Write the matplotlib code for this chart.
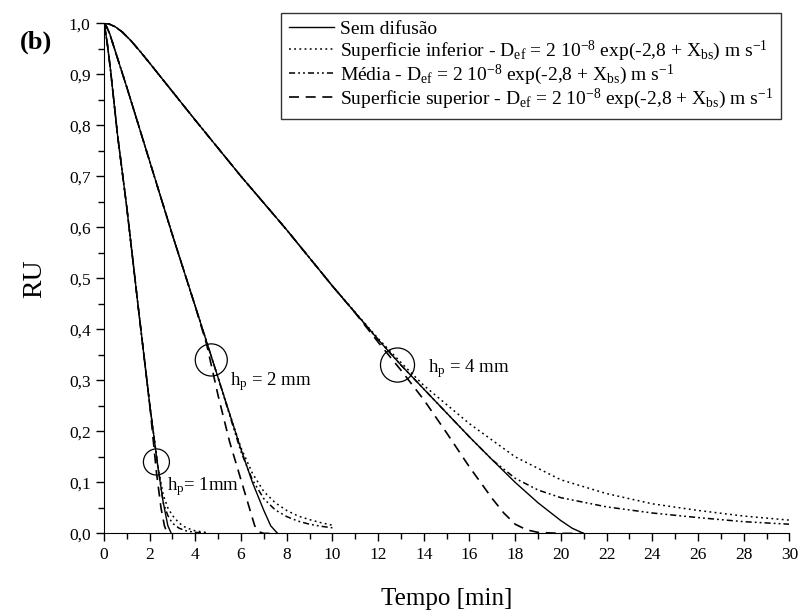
import matplotlib
matplotlib.use("Agg")
import matplotlib.pyplot as plt
from matplotlib.patches import Ellipse
from matplotlib.ticker import MultipleLocator, FuncFormatter

plt.rcParams['font.family'] = ['Liberation Serif', 'DejaVu Serif']
plt.rcParams['mathtext.fontset'] = 'custom'
plt.rcParams['mathtext.rm'] = 'Liberation Serif'
plt.rcParams['mathtext.it'] = 'Liberation Serif:italic'
plt.rcParams['mathtext.bf'] = 'Liberation Serif:bold'

# hp = 1 mm
t_sem_1 = [0, 0.05, 0.15, 0.3, 0.6, 1.0, 1.5, 2.0, 2.35, 2.6, 2.8, 2.95]
ru_sem_1 = [1.0, 0.99, 0.96, 0.905, 0.78, 0.64, 0.445, 0.255, 0.135, 0.06, 0.015, 0.0]
t_inf_1 = [0, 0.05, 0.15, 0.3, 0.6, 1.0, 1.5, 2.0, 2.35, 2.6, 2.8, 3.0, 3.3, 3.6, 4.0, 4.6]
ru_inf_1 = [1.0, 0.99, 0.96, 0.905, 0.78, 0.64, 0.445, 0.255, 0.135, 0.075, 0.05, 0.035, 0.02, 0.011, 0.005, 0.001]
t_med_1 = [0, 0.05, 0.15, 0.3, 0.6, 1.0, 1.5, 2.0, 2.35, 2.6, 2.8, 3.0, 3.3, 3.6, 4.0, 4.6]
ru_med_1 = [1.0, 0.99, 0.96, 0.905, 0.78, 0.64, 0.445, 0.255, 0.135, 0.06, 0.035, 0.02, 0.01, 0.005, 0.002, 0.0]
t_sup_1 = [0, 0.05, 0.15, 0.3, 0.6, 1.0, 1.5, 2.0, 2.3, 2.5, 2.65, 2.75, 2.9]
ru_sup_1 = [1.0, 0.99, 0.96, 0.905, 0.78, 0.64, 0.445, 0.255, 0.12, 0.05, 0.015, 0.003, 0.0]

# hp = 2 mm
t_sem_2 = [0, 0.1, 0.25, 0.5, 1, 2, 3, 4, 5, 6, 6.5, 7, 7.3, 7.6]
ru_sem_2 = [1.0, 0.995, 0.98, 0.945, 0.875, 0.73, 0.585, 0.445, 0.305, 0.165, 0.1, 0.045, 0.015, 0.0]
t_inf_2 = [0, 0.1, 0.25, 0.5, 1, 2, 3, 4, 5, 5.5, 6, 6.5, 7, 7.5, 8, 8.5, 9, 9.5, 10]
ru_inf_2 = [1.0, 0.995, 0.98, 0.945, 0.875, 0.73, 0.585, 0.445, 0.305, 0.235, 0.168, 0.118, 0.082, 0.06, 0.045, 0.034, 0.027, 0.021, 0.016]
t_med_2 = [0, 0.1, 0.25, 0.5, 1, 2, 3, 4, 5, 5.5, 6, 6.5, 7, 7.5, 8, 8.5, 9, 9.5, 10]
ru_med_2 = [1.0, 0.995, 0.98, 0.945, 0.875, 0.73, 0.585, 0.445, 0.305, 0.232, 0.16, 0.105, 0.068, 0.046, 0.033, 0.024, 0.018, 0.014, 0.011]
t_sup_2 = [0, 0.1, 0.25, 0.5, 1, 2, 3, 4, 4.5, 5, 5.5, 6, 6.3, 6.6, 6.8, 7.0, 7.6]
ru_sup_2 = [1.0, 0.995, 0.98, 0.945, 0.875, 0.73, 0.585, 0.445, 0.37, 0.27, 0.18, 0.105, 0.06, 0.015, 0.003, 0.0, 0.0]

# hp = 4 mm
t_sem_4 = [0, 0.2, 0.5, 0.8, 1.2, 1.6, 2, 4, 6, 8, 10, 12, 13, 14, 15, 16, 17, 18, 19, 20, 20.5, 21.0]
ru_sem_4 = [1.0, 0.999, 0.993, 0.983, 0.965, 0.944, 0.922, 0.81, 0.70, 0.595, 0.485, 0.38, 0.33, 0.283, 0.236, 0.189, 0.144, 0.10, 0.06, 0.025, 0.01, 0.0]
t_inf_4 = [0, 0.2, 0.5, 0.8, 1.2, 1.6, 2, 4, 6, 8, 10, 12, 13, 14, 16, 18, 20, 22, 24, 26, 28, 30]
ru_inf_4 = [1.0, 0.999, 0.993, 0.983, 0.965, 0.944, 0.922, 0.81, 0.70, 0.595, 0.485, 0.382, 0.335, 0.29, 0.215, 0.15, 0.105, 0.078, 0.058, 0.045, 0.034, 0.026]
t_med_4 = [0, 0.2, 0.5, 0.8, 1.2, 1.6, 2, 4, 6, 8, 10, 12, 13, 14, 15, 16, 17, 18, 19, 20, 22, 24, 26, 28, 30]
ru_med_4 = [1.0, 0.999, 0.993, 0.983, 0.965, 0.944, 0.922, 0.81, 0.70, 0.595, 0.485, 0.38, 0.33, 0.283, 0.236, 0.189, 0.144, 0.108, 0.085, 0.07, 0.052, 0.04, 0.031, 0.023, 0.018]
t_sup_4 = [0, 0.2, 0.5, 0.8, 1.2, 1.6, 2, 4, 6, 8, 10, 11, 12, 13, 14, 15, 16, 17, 17.5, 18, 18.5, 19, 20, 21]
ru_sup_4 = [1.0, 0.999, 0.993, 0.983, 0.965, 0.944, 0.922, 0.81, 0.70, 0.595, 0.485, 0.432, 0.375, 0.32, 0.262, 0.197, 0.13, 0.068, 0.04, 0.018, 0.007, 0.002, 0.0, 0.0]

labels = [
    "Sem difusão",
    r"Superficie inferior - D$_{\mathrm{ef}}$ = 2 10$^{-8}$ exp(-2,8 + X$_{\mathrm{bs}}$) m s$^{-1}$",
    r"Média - D$_{\mathrm{ef}}$ = 2 10$^{-8}$ exp(-2,8 + X$_{\mathrm{bs}}$) m s$^{-1}$",
    r"Superficie superior - D$_{\mathrm{ef}}$ = 2 10$^{-8}$ exp(-2,8 + X$_{\mathrm{bs}}$) m s$^{-1}$",
]

sty_sem = dict(color='black', lw=1.0, ls='-')
sty_inf = dict(color='black', lw=1.1, ls=(0, (1.2, 2.2)))
sty_med = dict(color='black', lw=1.1, ls=(0, (4, 2, 1.2, 2, 1.2, 2)))
sty_sup = dict(color='black', lw=1.2, ls=(0, (6, 4)))

fig = plt.figure(figsize=(7.99, 6.11), dpi=100)
ax = fig.add_axes([0.130, 0.127, 0.858, 0.835])

h1, = ax.plot(t_sem_4, ru_sem_4, **sty_sem)
h2, = ax.plot(t_inf_4, ru_inf_4, **sty_inf)
h3, = ax.plot(t_med_4, ru_med_4, **sty_med)
h4, = ax.plot(t_sup_4, ru_sup_4, **sty_sup)
for t, ru, sty in [(t_sem_2, ru_sem_2, sty_sem), (t_inf_2, ru_inf_2, sty_inf),
                   (t_med_2, ru_med_2, sty_med), (t_sup_2, ru_sup_2, sty_sup),
                   (t_sem_1, ru_sem_1, sty_sem), (t_inf_1, ru_inf_1, sty_inf),
                   (t_med_1, ru_med_1, sty_med), (t_sup_1, ru_sup_1, sty_sup)]:
    ax.plot(t, ru, **sty)

# circles marking where the curves split
for cx, cy, r in [(2.3, 0.14, 13), (4.7, 0.34, 16), (12.85, 0.33, 17)]:
    ax.add_patch(Ellipse((cx, cy), 2 * r / 22.83, 2 * r / 508.0,
                         fill=False, ec='black', lw=0.9))

ax.text(2.75, 0.085, r"h$_{\mathrm{p}}$= 1mm", fontsize=13.5)
ax.text(5.5, 0.29, r"h$_{\mathrm{p}}$ = 2 mm", fontsize=13.5)
ax.text(14.2, 0.315, r"h$_{\mathrm{p}}$ = 4 mm", fontsize=13.5)

ax.set_xlim(0, 30)
ax.set_ylim(0, 1.0)
ax.spines['top'].set_visible(False)
ax.spines['right'].set_visible(False)
ax.xaxis.set_major_locator(MultipleLocator(2))
ax.xaxis.set_minor_locator(MultipleLocator(1))
ax.yaxis.set_major_locator(MultipleLocator(0.1))
ax.yaxis.set_minor_locator(MultipleLocator(0.05))
ax.yaxis.set_major_formatter(FuncFormatter(lambda v, p: f"{v:.1f}".replace('.', ',')))
ax.tick_params(which='major', direction='out', length=6, width=1, labelsize=12.5)
ax.tick_params(which='minor', direction='out', length=4, width=1)
ax.set_xlabel("Tempo [min]", fontsize=18, labelpad=18)
ax.set_ylabel("RU", fontsize=20, labelpad=16)

fig.text(0.025, 0.92, "(b)", fontsize=19, fontweight='bold')

leg = ax.legend([h1, h2, h3, h4], labels, loc='upper right',
                bbox_to_anchor=(0.977, 0.979), bbox_transform=fig.transFigure,
                fontsize=14, frameon=True, fancybox=False, handlelength=2.3,
                handletextpad=0.3, borderpad=0.4, labelspacing=0.0,
                borderaxespad=0)
leg.get_frame().set_edgecolor('black')
leg.get_frame().set_linewidth(1.0)

fig.savefig("out.png", dpi=100)
